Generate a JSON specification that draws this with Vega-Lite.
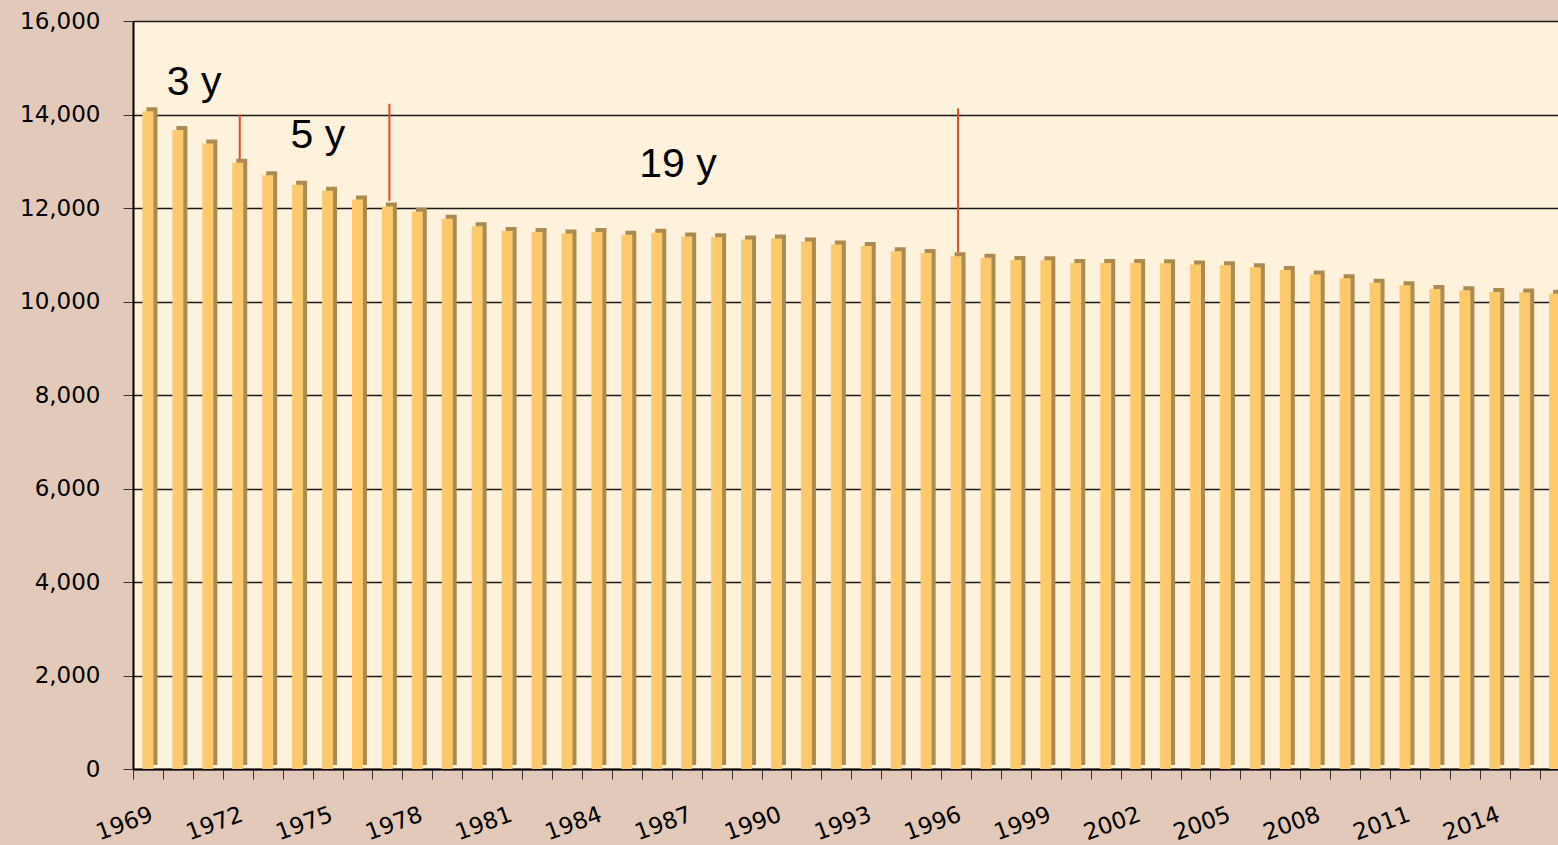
{
  "$schema": "https://vega.github.io/schema/vega-lite/v6.json",
  "width": 1425,
  "height": 748,
  "autosize": {"type": "none"},
  "padding": {"left": 133, "top": 21, "right": 0, "bottom": 76},
  "background": "#e2c9ba",
  "config": {
    "view": {"fill": "#fef2dc", "stroke": null},
    "font": "DejaVu Sans"
  },
  "datasets": {
    "bars": [
      {"year": 1969, "value": 14070}, {"year": 1970, "value": 13670}, {"year": 1971, "value": 13380},
      {"year": 1972, "value": 12970}, {"year": 1973, "value": 12700}, {"year": 1974, "value": 12500},
      {"year": 1975, "value": 12370}, {"year": 1976, "value": 12180}, {"year": 1977, "value": 12030},
      {"year": 1978, "value": 11920}, {"year": 1979, "value": 11770}, {"year": 1980, "value": 11610},
      {"year": 1981, "value": 11510}, {"year": 1982, "value": 11485}, {"year": 1983, "value": 11455},
      {"year": 1984, "value": 11485}, {"year": 1985, "value": 11430}, {"year": 1986, "value": 11470},
      {"year": 1987, "value": 11390}, {"year": 1988, "value": 11375}, {"year": 1989, "value": 11325},
      {"year": 1990, "value": 11350}, {"year": 1991, "value": 11285}, {"year": 1992, "value": 11220},
      {"year": 1993, "value": 11185}, {"year": 1994, "value": 11075}, {"year": 1995, "value": 11035},
      {"year": 1996, "value": 10970}, {"year": 1997, "value": 10935}, {"year": 1998, "value": 10890},
      {"year": 1999, "value": 10885}, {"year": 2000, "value": 10825}, {"year": 2001, "value": 10825},
      {"year": 2002, "value": 10825}, {"year": 2003, "value": 10820}, {"year": 2004, "value": 10790},
      {"year": 2005, "value": 10775}, {"year": 2006, "value": 10735}, {"year": 2007, "value": 10675},
      {"year": 2008, "value": 10580}, {"year": 2009, "value": 10500}, {"year": 2010, "value": 10400},
      {"year": 2011, "value": 10345}, {"year": 2012, "value": 10270}, {"year": 2013, "value": 10240},
      {"year": 2014, "value": 10205}, {"year": 2015, "value": 10190}, {"year": 2016, "value": 10165}
    ],
    "rules": [
      {"year": 1972, "top": 14000, "bottom": 13050},
      {"year": 1977, "top": 14230, "bottom": 12150},
      {"year": 1996, "top": 14130, "bottom": 11050}
    ],
    "labels": [
      {"pos": 1970.54, "value": 14417, "label": "3 y"},
      {"pos": 1974.68, "value": 13283, "label": "5 y"},
      {"pos": 1986.71, "value": 12663, "label": "19 y"}
    ]
  },
  "layer": [
    {
      "layer": [
        {
          "data": {"name": "bars"},
          "mark": {"type": "bar", "size": 11, "color": "#ab8b50", "xOffset": 4, "yOffset": -4, "clip": true},
          "encoding": {
            "x": {
              "field": "year", "type": "ordinal",
              "scale": {"range": [0, 1436.6], "paddingInner": 0, "paddingOuter": 0},
              "axis": {
                "title": null,
                "tickBand": "extent",
                "labelExpr": "(datum.value - 1969) % 3 == 0 ? datum.label : ''",
                "labelAngle": -20,
                "labelAlign": "right",
                "labelBaseline": "top",
                "labelPadding": 24,
                "labelFontSize": 23,
                "labelColor": "#000000",
                "labelFont": "DejaVu Sans",
                "tickSize": 10,
                "tickColor": "#333333",
                "domainColor": "#000000",
                "domainWidth": 2,
                "labelOverlap": false
              }
            },
            "y": {
              "field": "value", "type": "quantitative",
              "scale": {"domain": [0, 16000], "nice": false},
              "axis": {
                "title": null,
                "values": [0, 2000, 4000, 6000, 8000, 10000, 12000, 14000, 16000],
                "format": ",.0f",
                "labelFontSize": 23,
                "labelColor": "#000000",
                "labelFont": "DejaVu Sans",
                "labelPadding": 23,
                "tickSize": 10,
                "tickColor": "#333333",
                "domainColor": "#000000",
                "domainWidth": 2,
                "grid": true,
                "gridColor": "#1a1a1a",
                "gridWidth": 1.5
              }
            }
          }
        },
        {
          "data": {"name": "bars"},
          "mark": {"type": "bar", "size": 11, "color": "#fec96b", "clip": true},
          "encoding": {
            "x": {"field": "year", "type": "ordinal"},
            "y": {"field": "value", "type": "quantitative"}
          }
        },
        {
          "data": {"name": "rules"},
          "mark": {"type": "rule", "color": "#e34a26", "strokeWidth": 2, "xOffset": 2},
          "encoding": {
            "x": {"field": "year", "type": "ordinal"},
            "y": {"field": "top", "type": "quantitative"},
            "y2": {"field": "bottom"}
          }
        }
      ]
    },
    {
      "data": {"name": "labels"},
      "mark": {"type": "text", "font": "Liberation Sans", "fontSize": 41, "color": "#000000", "align": "center", "baseline": "alphabetic"},
      "encoding": {
        "x": {"field": "pos", "type": "quantitative", "scale": {"domain": [1968.5, 2016.5], "range": [0, 1436.6]}, "axis": null},
        "y": {"field": "value", "type": "quantitative"},
        "text": {"field": "label"}
      }
    }
  ],
  "resolve": {"scale": {"x": "independent"}, "axis": {"x": "independent"}}
}
